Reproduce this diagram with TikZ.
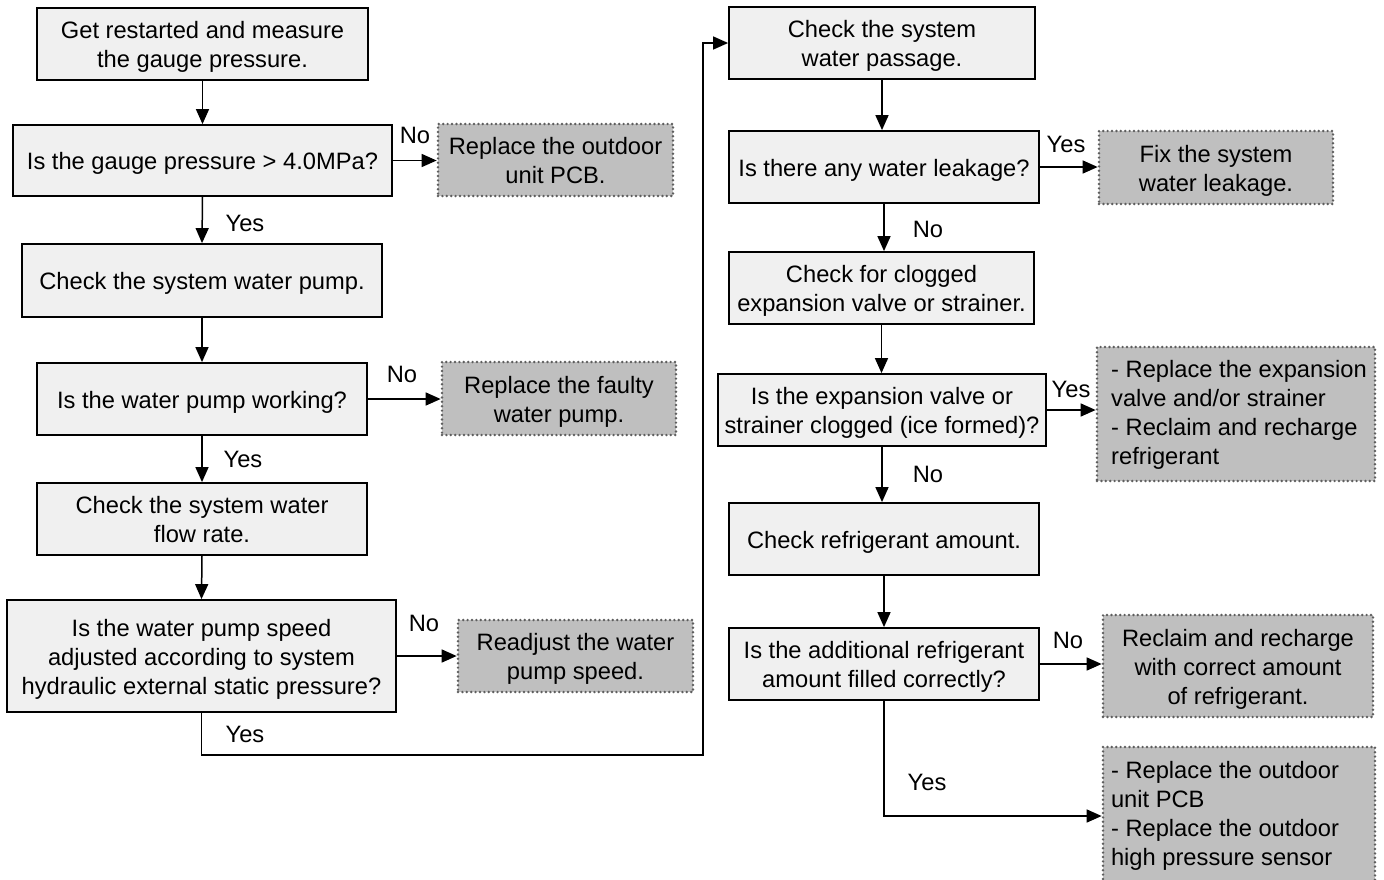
\documentclass[tikz,border=0pt]{standalone}
\usepackage{fontspec}
\setmainfont{Liberation Sans}
\usetikzlibrary{arrows.meta}
\definecolor{lightbox}{HTML}{F0F0F0}
\definecolor{graybox}{HTML}{BFBFBF}
\definecolor{dotline}{HTML}{5E5E5E}
\newcommand\bxc[1]{\raisebox{-3.5pt}[\height][\depth]{\begin{tabular}{@{}c@{}}#1\end{tabular}}}
\newcommand\bxl[3]{\hspace*{#1}\raisebox{#2}[\height][\depth]{\begin{tabular}{@{}l@{}}#3\end{tabular}}}
\tikzset{
  every node/.style={font=\fontsize{23.7}{29}\selectfont, inner sep=0pt},
  stepbox/.style={draw=black, line width=1.8pt, fill=lightbox, align=center},
  actbox/.style={draw=dotline, line width=2.7pt, dash pattern=on 0pt off 4.4pt, line cap=round, fill=graybox, align=center},
  conn/.style={line width=1.5pt, -{Triangle[length=15pt,width=13pt]}},
  lbl/.style={font=\fontsize{23.7}{29}\selectfont}
}
\begin{document}
\begin{tikzpicture}[x=1pt,y=-1pt]
\useasboundingbox (0,0) rectangle (1384,879);
\clip (0,0) rectangle (1384,879);
\fill[white] (0,0) rectangle (1384,879);
% left column
\node[stepbox, minimum width=331pt, minimum height=72pt] (b1) at (202.5,44) {\bxc{Get restarted and measure\\the gauge pressure.}};
\node[stepbox, minimum width=379pt, minimum height=71pt] (b2) at (202.5,160.5) {\bxc{Is the gauge pressure > 4.0MPa?}};
\node[actbox, minimum width=235pt, minimum height=72pt] (g1) at (555.5,160) {\bxc{Replace the outdoor\\unit PCB.}};
\node[stepbox, minimum width=360pt, minimum height=73pt] (b3) at (202,280.5) {\bxc{Check the system water pump.}};
\node[stepbox, minimum width=330pt, minimum height=72pt] (b4) at (202,399) {\bxc{Is the water pump working?}};
\node[actbox, minimum width=234pt, minimum height=73pt] (g2) at (559,398.5) {\bxc{Replace the faulty\\water pump.}};
\node[stepbox, minimum width=330pt, minimum height=72pt] (b5) at (202,519) {\bxc{Check the system water\\flow rate.}};
\node[stepbox, minimum width=389pt, minimum height=112pt] (b6) at (201.5,656) {\bxc{Is the water pump speed\\adjusted according to system\\hydraulic external static pressure?}};
\node[actbox, minimum width=235pt, minimum height=72pt] (g3) at (575.5,656) {\bxc{Readjust the water\\pump speed.}};
% right column
\node[stepbox, minimum width=306pt, minimum height=72pt] (b7) at (882,43) {\bxc{Check the system\\water passage.}};
\node[stepbox, minimum width=310pt, minimum height=72pt] (b8) at (884,167) {\bxc{Is there any water leakage?}};
\node[actbox, minimum width=234pt, minimum height=73pt] (g4) at (1216,167.5) {\bxc{Fix the system\\water leakage.}};
\node[stepbox, minimum width=305pt, minimum height=72pt] (b9) at (881.5,288) {\bxc{Check for clogged\\expansion valve or strainer.}};
\node[stepbox, minimum width=328pt, minimum height=72pt] (b10) at (882,410) {\bxc{Is the expansion valve or\\strainer clogged (ice formed)?}};
\node[actbox, minimum width=278pt, minimum height=134pt] (g5) at (1236,414) {\bxl{6pt}{-1.5pt}{- Replace the expansion\\valve and/or strainer\\- Reclaim and recharge\\refrigerant}};
\node[stepbox, minimum width=310pt, minimum height=72pt] (b11) at (884,539) {\bxc{Check refrigerant amount.}};
\node[stepbox, minimum width=310pt, minimum height=72pt] (b12) at (884,664) {\bxc{Is the additional refrigerant\\amount filled correctly?}};
\node[actbox, minimum width=270pt, minimum height=102pt] (g6) at (1238,666) {\bxc{Reclaim and recharge\\with correct amount\\of refrigerant.}};
\node[actbox, minimum width=272pt, minimum height=138pt] (g7) at (1239,816) {\bxl{-28pt}{-0.5pt}{- Replace the outdoor\\unit PCB\\- Replace the outdoor\\high pressure sensor}};
% connectors left
\draw[conn] (b1.south) -- (b2.north);
\draw[conn] (b2.east) -- (b2.east -| g1.west);
\node[lbl] (l1) at (415,135) {No};
\draw[conn] (b2.south) -- (b3.north);
\node[lbl] (l2) at (245,223) {Yes};
\draw[conn] (b3.south) -- (b4.north);
\draw[conn] (b4.east) -- (b4.east -| g2.west);
\node[lbl] (l3) at (402,374) {No};
\draw[conn] (b4.south) -- (b5.north);
\node[lbl] (l4) at (243,459) {Yes};
\draw[conn] (b5.south) -- (b6.north);
\draw[conn] (b6.east) -- (b6.east -| g3.west);
\node[lbl] (l5) at (424,623) {No};
\coordinate (loopR) at (703,755);
\draw[conn] (b6.south) |- (loopR) |- (b7.west);
\node[lbl] (l6) at (245,734) {Yes};
% connectors right
\draw[conn] (b7.south) -- (b7.south |- b8.north);
\draw[conn] (b8.east) -- (b8.east -| g4.west);
\node[lbl] (l7) at (1066,144) {Yes};
\draw[conn] (b8.south) -- (b8.south |- b9.north);
\node[lbl] (l8) at (928,229) {No};
\draw[conn] (b9.south) -- (b9.south |- b10.north);
\draw[conn] (b10.east) -- (b10.east -| g5.west);
\node[lbl] (l9) at (1071,389) {Yes};
\draw[conn] (b10.south) -- (b10.south |- b11.north);
\node[lbl] (l10) at (928,474) {No};
\draw[conn] (b11.south) -- (b12.north);
\draw[conn] (b12.east) -- (b12.east -| g6.west);
\node[lbl] (l11) at (1068,640) {No};
\draw[conn] (b12.south) |- (g7.west);
\node[lbl] (l12) at (927,782) {Yes};
\end{tikzpicture}
\end{document}
